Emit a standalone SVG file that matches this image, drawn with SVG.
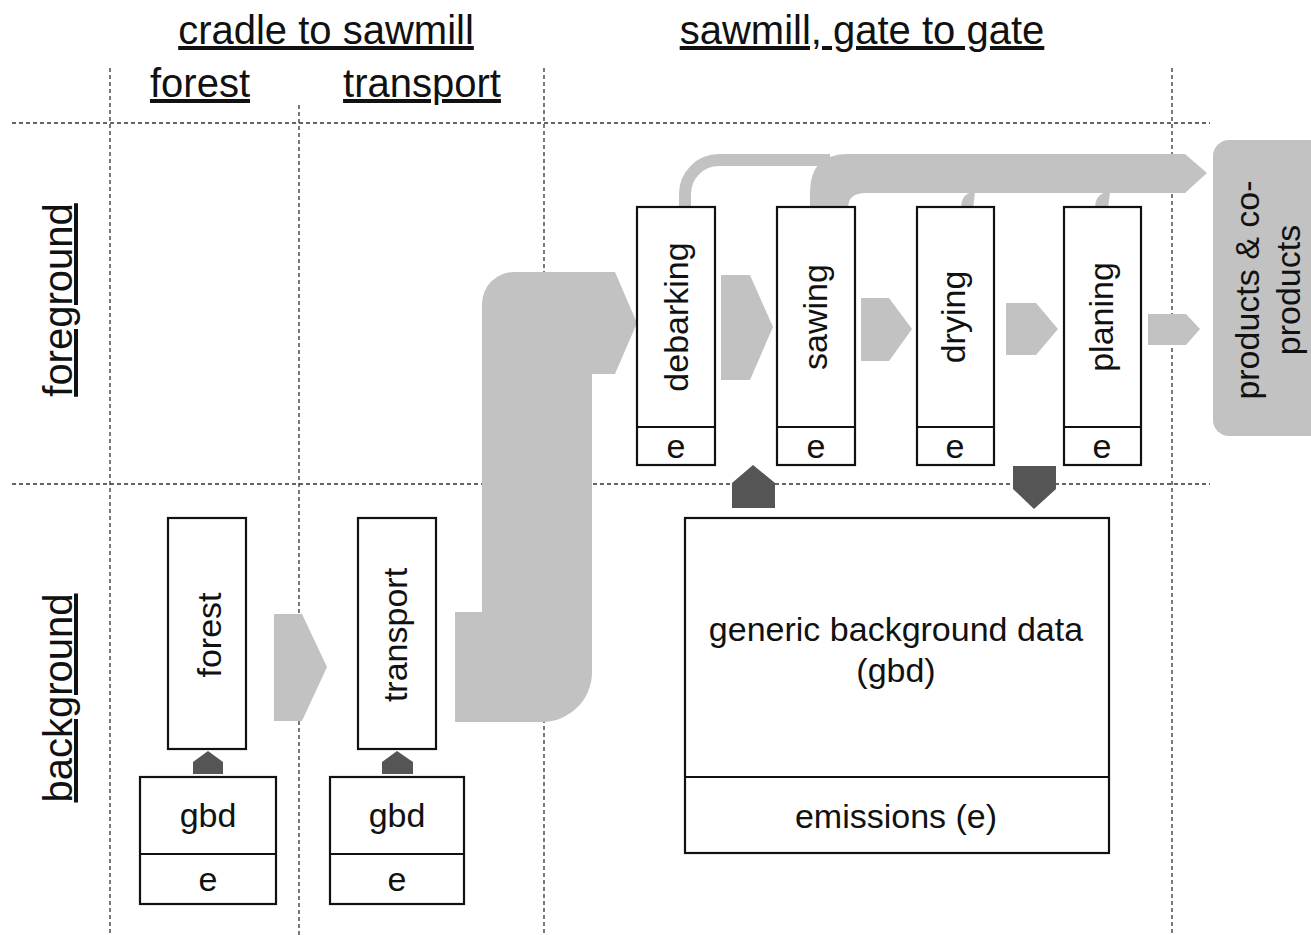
<svg xmlns="http://www.w3.org/2000/svg" width="1311" height="935" viewBox="0 0 1311 935">
<style>
text{font-family:"Liberation Sans",Arial,sans-serif;fill:#111}
.hd{font-size:40px;text-decoration:underline;text-anchor:middle}
.lb{font-size:34px;text-anchor:middle}
.box{fill:#fff;stroke:#111;stroke-width:2.2}
.dash{stroke:#333;stroke-width:1.3;stroke-dasharray:4 3;fill:none}
.flow{fill:#c2c2c2;stroke:none}
.dk{fill:#555;stroke:none}
</style>
<rect width="1311" height="935" fill="#fff"/>
<g id="grid">
<line class="dash" x1="12" y1="123" x2="1210" y2="123"/>
<line class="dash" x1="12" y1="484" x2="1210" y2="484"/>
<line class="dash" x1="110" y1="68" x2="110" y2="935"/>
<line class="dash" x1="299" y1="105" x2="299" y2="935"/>
<line class="dash" x1="544" y1="68" x2="544" y2="935"/>
<line class="dash" x1="1172" y1="68" x2="1172" y2="935"/>
</g>
<g id="headers">
<text class="hd" x="326" y="44">cradle to sawmill</text>
<text class="hd" x="862" y="44">sawmill, gate to gate</text>
<text class="hd" x="200" y="97">forest</text>
<text class="hd" x="422" y="97">transport</text>
<text class="hd" transform="translate(72,300) rotate(-90)">foreground</text>
<text class="hd" transform="translate(72,698) rotate(-90)">background</text>
</g>
<g id="connectors">
<polygon class="flow" points="274,614 302,614 327,667 302,721 274,721"/>
<path class="flow" d="M455 612 H482 V304 A32 32 0 0 1 514 272 H615 L637 323 L615 374 H592 V672 A50 50 0 0 1 542 722 H455 Z"/>
<polygon class="flow" points="721,275 750,275 773,327 750,380 721,380"/>
<polygon class="flow" points="861,298 889,298 912,329 889,361 861,361"/>
<polygon class="flow" points="1006,303 1036,303 1058,329 1036,355 1006,355"/>
<polygon class="flow" points="1148,314 1186,314 1200,329 1186,345 1148,345"/>
<path d="M685 208 V194 A34 34 0 0 1 719 160 H830" fill="none" stroke="#c2c2c2" stroke-width="12"/>
<path class="flow" d="M810 208 V192 Q810 154 848 154 H1185 L1207 173 L1185 193 H866 Q848 193 848 208 Z"/>
<path class="flow" d="M961 209 Q961 192 975 192 L973 209 Z"/>
<path class="flow" d="M1095 209 Q1095 192 1110 192 L1108 209 Z"/>
<polygon class="dk" points="193,774 193,762 208,751 223,762 223,774"/>
<polygon class="dk" points="382,774 382,762 397,751 413,762 413,774"/>
<polygon class="dk" points="732,508 732,483 753,465 775,483 775,508"/>
<polygon class="dk" points="1013,466 1056,466 1056,489 1034,509 1013,489"/>
</g>
<g id="debarking">
<rect class="box" x="637" y="207" width="78" height="258"/>
<line class="box" x1="637" y1="427" x2="715" y2="427"/>
<text class="lb" transform="translate(688,317) rotate(-90)">debarking</text>
<text class="lb" x="676" y="458">e</text>
</g>
<g id="sawing">
<rect class="box" x="777" y="207" width="78" height="258"/>
<line class="box" x1="777" y1="427" x2="855" y2="427"/>
<text class="lb" transform="translate(827,317) rotate(-90)">sawing</text>
<text class="lb" x="816" y="458">e</text>
</g>
<g id="drying">
<rect class="box" x="917" y="207" width="77" height="258"/>
<line class="box" x1="917" y1="427" x2="994" y2="427"/>
<text class="lb" transform="translate(965,317) rotate(-90)">drying</text>
<text class="lb" x="955" y="458">e</text>
</g>
<g id="planing">
<rect class="box" x="1064" y="207" width="77" height="258"/>
<line class="box" x1="1064" y1="427" x2="1141" y2="427"/>
<text class="lb" transform="translate(1113,317) rotate(-90)">planing</text>
<text class="lb" x="1102" y="458">e</text>
</g>
<g id="products">
<rect x="1213" y="140" width="120" height="296" rx="16" fill="#c2c2c2"/>
<text class="lb" transform="translate(1259,290) rotate(-90)">products &amp; co-</text>
<text class="lb" transform="translate(1300,290) rotate(-90)">products</text>
</g>
<g id="forest">
<rect class="box" x="168" y="518" width="78" height="231"/>
<text class="lb" transform="translate(221,635) rotate(-90)">forest</text>
</g>
<g id="forest-gbd">
<rect class="box" x="140" y="777" width="136" height="127"/>
<line class="box" x1="140" y1="854" x2="276" y2="854"/>
<text class="lb" x="208" y="827">gbd</text>
<text class="lb" x="208" y="891">e</text>
</g>
<g id="transport">
<rect class="box" x="358" y="518" width="78" height="231"/>
<text class="lb" transform="translate(407,635) rotate(-90)">transport</text>
</g>
<g id="transport-gbd">
<rect class="box" x="330" y="777" width="134" height="127"/>
<line class="box" x1="330" y1="854" x2="464" y2="854"/>
<text class="lb" x="397" y="827">gbd</text>
<text class="lb" x="397" y="891">e</text>
</g>
<g id="gbd">
<rect class="box" x="685" y="518" width="424" height="335"/>
<line class="box" x1="685" y1="777" x2="1109" y2="777"/>
<text class="lb" x="896" y="641">generic background data</text>
<text class="lb" x="896" y="682">(gbd)</text>
<text class="lb" x="896" y="828">emissions (e)</text>
</g>
</svg>
